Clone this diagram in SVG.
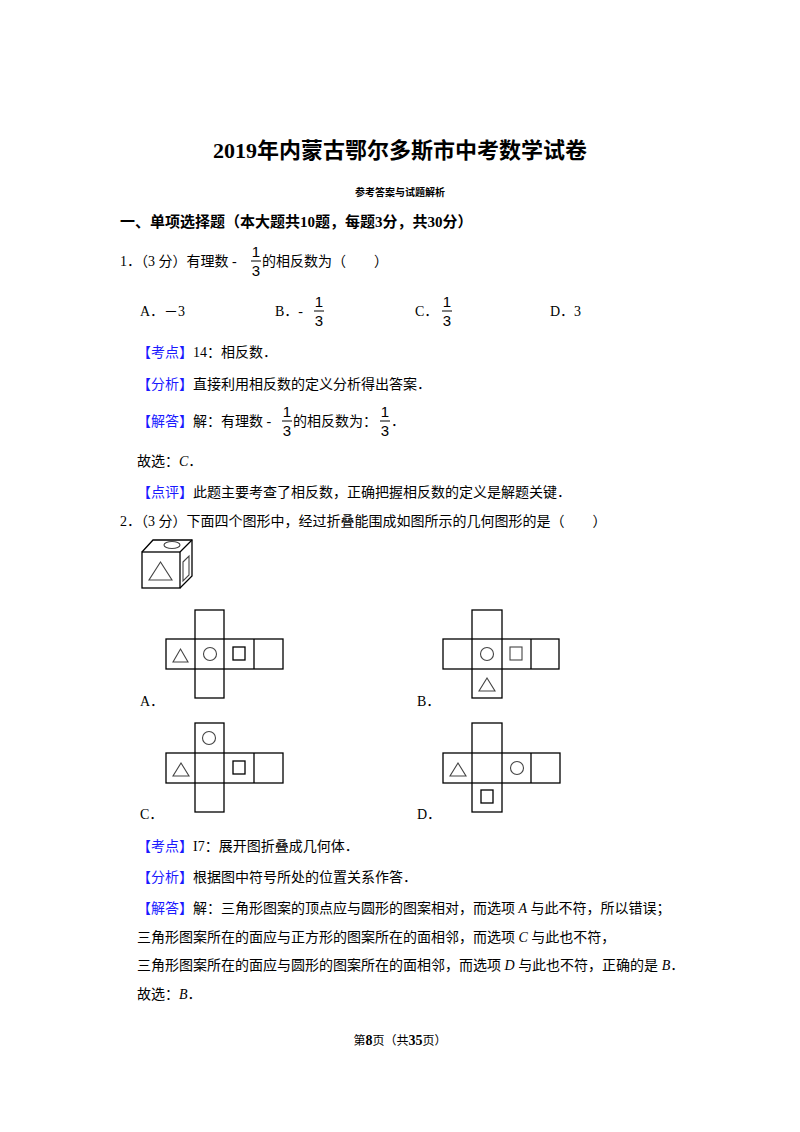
<svg xmlns="http://www.w3.org/2000/svg" width="800" height="1132" viewBox="0 0 800 1132">
<style>
text{font-family:"Liberation Serif","Noto Sans CJK SC",serif;font-size:14px;fill:#000}
.b{fill:#1a1aff}
.fr{font-family:"Liberation Sans",sans-serif;font-size:15px}
.i{font-style:italic}
.ln{stroke:#000;stroke-width:1.3;fill:none}
.sh{stroke:#444;stroke-width:1.1;fill:none}
</style>
<rect width="800" height="1132" fill="#fff"/>
<text x="400" y="158" text-anchor="middle" style="font-size:22px;font-weight:bold">2019年内蒙古鄂尔多斯市中考数学试卷</text>
<text x="400" y="196" text-anchor="middle" style="font-size:10px;font-weight:bold">参考答案与试题解析</text>
<text x="120" y="227" style="font-size:15px;font-weight:bold">一、单项选择题（本大题共10题，每题3分，共30分）</text>

<text x="120" y="266">1．（3 分）有理数 -</text>
<g><text x="256" y="257" class="fr" text-anchor="middle">1</text><line x1="251" y1="261" x2="261" y2="261" stroke="#000"/><text x="256" y="276" class="fr" text-anchor="middle">3</text></g>
<text x="262" y="266">的相反数为（　　）</text>

<text x="140" y="316">A．－3</text>
<text x="275" y="316">B．-</text>
<text x="319" y="307" class="fr" text-anchor="middle">1</text><line x1="314" y1="311" x2="324" y2="311" stroke="#000"/><text x="319" y="326" class="fr" text-anchor="middle">3</text>
<text x="415" y="316">C．</text>
<text x="447" y="307" class="fr" text-anchor="middle">1</text><line x1="442" y1="311" x2="452" y2="311" stroke="#000"/><text x="447" y="326" class="fr" text-anchor="middle">3</text>
<text x="550" y="316">D．3</text>

<text x="137" y="357"><tspan class="b">【考点】</tspan>14：相反数．</text>
<text x="137" y="389"><tspan class="b">【分析】</tspan>直接利用相反数的定义分析得出答案．</text>
<text x="137" y="426"><tspan class="b">【解答】</tspan>解：有理数 -</text>
<text x="287" y="417" class="fr" text-anchor="middle">1</text><line x1="282" y1="421" x2="292" y2="421" stroke="#000"/><text x="287" y="436" class="fr" text-anchor="middle">3</text>
<text x="293" y="426">的相反数为：</text>
<text x="385" y="417" class="fr" text-anchor="middle">1</text><line x1="380" y1="421" x2="390" y2="421" stroke="#000"/><text x="385" y="436" class="fr" text-anchor="middle">3</text>
<text x="391" y="426">．</text>
<text x="137" y="466">故选：<tspan class="i">C</tspan>．</text>
<text x="137" y="497"><tspan class="b">【点评】</tspan>此题主要考查了相反数，正确把握相反数的定义是解题关键．</text>
<text x="120" y="526">2．（3 分）下面四个图形中，经过折叠能围成如图所示的几何图形的是（　　）</text>

<g id="cube">
<rect x="142" y="552" width="38" height="36" class="ln"/>
<polyline points="142,552 153,540 192,540 192,576 180,588" class="ln"/>
<line x1="180" y1="552" x2="192" y2="540" class="ln"/>
<polygon points="149,580 172,580 160.5,562" class="sh"/>
<ellipse cx="172" cy="545" rx="8" ry="3.5" class="sh"/>
<polygon points="183,562 189,556 189,575 183,581" class="sh"/>
</g>

<g id="netA">
<rect x="166" y="639" width="117" height="30" class="ln"/>
<rect x="195" y="610" width="29" height="88" class="ln"/>
<line x1="254" y1="639" x2="254" y2="669" class="ln"/>
<polygon points="173,662 188,662 180.5,649" class="sh"/>
<circle cx="210" cy="654" r="6.5" class="sh"/>
<rect x="233" y="647" width="12" height="13" class="ln"/>
</g>
<text x="140" y="706">A．</text>

<g id="netB">
<rect x="443" y="639" width="116" height="30" class="ln"/>
<rect x="472" y="610" width="30" height="88" class="ln"/>
<line x1="531" y1="639" x2="531" y2="669" class="ln"/>
<circle cx="487" cy="654" r="6.5" class="sh"/>
<rect x="510" y="647" width="12" height="13" class="sh"/>
<polygon points="479,691 495,691 487,678" class="sh"/>
</g>
<text x="417" y="706">B．</text>

<g id="netC">
<rect x="166" y="753" width="117" height="30" class="ln"/>
<rect x="195" y="723" width="29" height="89" class="ln"/>
<line x1="254" y1="753" x2="254" y2="783" class="ln"/>
<circle cx="209" cy="738" r="6.5" class="sh"/>
<polygon points="173,776 189,776 181,763" class="sh"/>
<rect x="233" y="761" width="12" height="13" class="ln"/>
</g>
<text x="140" y="819">C．</text>

<g id="netD">
<rect x="443" y="753" width="117" height="30" class="ln"/>
<rect x="472" y="723" width="30" height="89" class="ln"/>
<line x1="531" y1="753" x2="531" y2="783" class="ln"/>
<polygon points="450,776 466,776 458,763" class="sh"/>
<circle cx="517" cy="768" r="6.5" class="sh"/>
<rect x="481" y="790" width="12" height="13" class="ln"/>
</g>
<text x="417" y="819">D．</text>

<text x="137" y="851"><tspan class="b">【考点】</tspan>I7：展开图折叠成几何体．</text>
<text x="137" y="882"><tspan class="b">【分析】</tspan>根据图中符号所处的位置关系作答．</text>
<text x="137" y="913"><tspan class="b">【解答】</tspan>解：三角形图案的顶点应与圆形的图案相对，而选项 <tspan class="i">A</tspan> 与此不符，所以错误；</text>
<text x="137" y="942">三角形图案所在的面应与正方形的图案所在的面相邻，而选项 <tspan class="i">C</tspan> 与此也不符，</text>
<text x="137" y="970">三角形图案所在的面应与圆形的图案所在的面相邻，而选项 <tspan class="i">D</tspan> 与此也不符，正确的是 <tspan class="i">B</tspan>．</text>
<text x="137" y="999">故选：<tspan class="i">B</tspan>．</text>
<text x="400" y="1045" text-anchor="middle" style="font-size:12px">第<tspan style="font-weight:bold;font-size:14px">8</tspan>页（共<tspan style="font-weight:bold;font-size:14px">35</tspan>页）</text>
</svg>
